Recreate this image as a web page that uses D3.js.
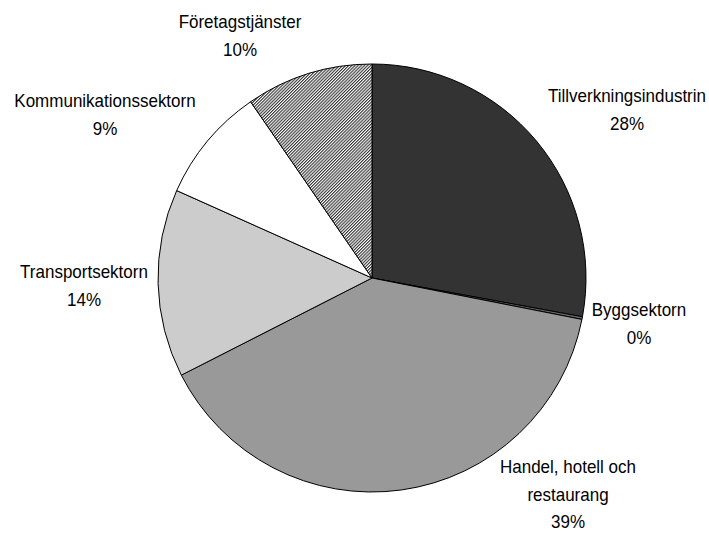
<!DOCTYPE html>
<html>
<head>
<meta charset="utf-8">
<script src="https://cdn.jsdelivr.net/npm/d3@7"></script>
<style>
  body { margin: 0; background: #fff; }
  text { font-family: "Liberation Sans", Arial, sans-serif; font-size: 17px; fill: #000; }
</style>
</head>
<body>
<div id="chart"></div>
<script>
// sectors, clockwise from 12 o'clock
var sectors = ["Tillverkningsindustrin", "Byggsektorn", "Handel, hotell och restaurang",
               "Transportsektorn", "Kommunikationssektorn", "Företagstjänster"];
var shares = [27.9, 0.2, 39.4, 14.2, 8.7, 9.6];
var percentLabels = ["28%", "0%", "39%", "14%", "9%", "10%"];
// label lines (category name split as in the picture)
var labelLines = [["Tillverkningsindustrin"], ["Byggsektorn"], ["Handel, hotell och", "restaurang"],
                  ["Transportsektorn"], ["Kommunikationssektorn"], ["Företagstjänster"]];

var width = 709, height = 533;
var cx = 372, cy = 278, radius = 214;
var lineH = 25.2;     // before the vertical stretch below
var stretch = 1.1;    // reference font is taller than it is wide

var fills = ["#333333", "#666666", "#999999", "#cccccc", "#ffffff", "url(#hatch)"];
// label placement relative to pie centre (first baseline, centre x)
var labelOffsets = [[255, -176], [267, 38], [196, 195], [-288, 0], [-267, -171], [-132, -250]];

var svg = d3.select("#chart").append("svg")
    .attr("width", width)
    .attr("height", height);

var pat = svg.append("defs").append("pattern")
    .attr("id", "hatch")
    .attr("patternUnits", "userSpaceOnUse")
    .attr("width", 2.2)
    .attr("height", 2.2)
    .attr("patternTransform", "rotate(45)");
pat.append("rect").attr("width", 2.2).attr("height", 2.2).attr("fill", "#fff");
pat.append("rect").attr("width", 1.1).attr("height", 2.2).attr("fill", "#333");

var pie = d3.pie().sort(null).value(function(d) { return d; });
var arc = d3.arc().innerRadius(0).outerRadius(radius);

var g = svg.append("g").attr("transform", "translate(" + cx + "," + cy + ")");

g.selectAll("path")
    .data(pie(shares))
    .enter().append("path")
    .attr("d", arc)
    .attr("fill", function(d, i) { return fills[i]; })
    .attr("stroke", "#000")
    .attr("stroke-width", 1);

var labels = g.selectAll("text.lbl")
    .data(sectors)
    .enter().append("text")
    .attr("class", "lbl")
    .attr("text-anchor", "middle")
    .attr("transform", function(d, i) {
        return "translate(" + labelOffsets[i][0] + "," + labelOffsets[i][1] + ") scale(1," + stretch + ")";
    });

labels.each(function(d, i) {
    var t = d3.select(this);
    var lines = labelLines[i].concat([percentLabels[i]]);
    lines.forEach(function(line, j) {
        t.append("tspan")
            .attr("x", 0)
            .attr("dy", j === 0 ? 0 : lineH)
            .text(line);
    });
});
</script>
</body>
</html>
